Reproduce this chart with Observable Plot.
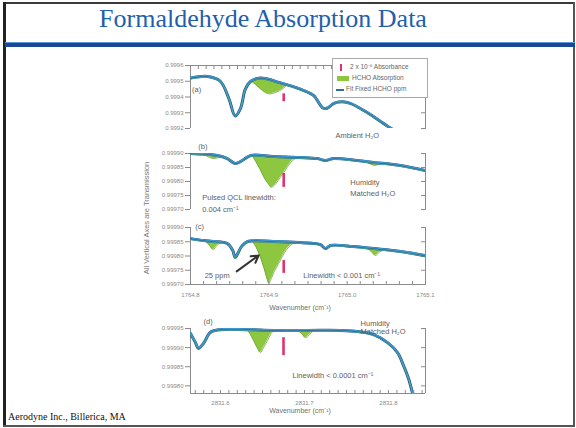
<!DOCTYPE html>
<html><head><meta charset="utf-8">
<script src="https://cdn.jsdelivr.net/npm/d3@7"></script>
<script src="https://cdn.jsdelivr.net/npm/@observablehq/plot@0.6"></script>
<style>
html,body{margin:0;padding:0;background:#fff;}
#slide{position:relative;width:576px;height:428px;overflow:hidden;background:#fff;font-family:"Liberation Sans",Arial,sans-serif;}
#slide svg{position:absolute;left:0;top:0;}
.bd{position:absolute;background:#3a3a3a;}
#title{position:absolute;left:0;top:6px;width:526px;text-align:center;font-family:"Liberation Serif","Times New Roman",serif;font-size:26px;line-height:26px;color:#1f5fad;white-space:nowrap;}
#rule1{position:absolute;left:5px;top:42px;width:570px;height:1px;background:#5b95d6;}
#rule2{position:absolute;left:5px;top:43px;width:570px;height:4px;background:#1b4894;}
#footer{position:absolute;left:8px;top:411px;font-family:"Liberation Serif","Times New Roman",serif;font-size:10px;color:#111;white-space:nowrap;}
#ytitle{position:absolute;left:146px;top:218px;transform:translate(-50%,-50%) rotate(-90deg);white-space:nowrap;font-size:7.5px;color:#7a7a7a;}
#legend{position:absolute;left:332px;top:58px;width:94px;height:38px;border:1px solid #a9a9a9;background:#fff;font-size:6.5px;color:#666;z-index:5;}
#legend .row{position:absolute;left:0;height:10px;line-height:10px;white-space:nowrap;}
</style></head>
<body><div id="slide">
<div class="bd" style="left:3px;top:2px;width:572px;height:2px;"></div>
<div class="bd" style="left:3px;top:2px;width:3px;height:425px;background:#222;"></div>
<div class="bd" style="left:573px;top:2px;width:2px;height:425px;background:#555;"></div>
<div class="bd" style="left:3px;top:425px;width:572px;height:2px;background:#555;"></div>
<div id="title">Formaldehyde Absorption Data</div>
<div id="rule1"></div><div id="rule2"></div>
<div id="ytitle">All Vertical Axes are Transmission</div>
<div id="footer">Aerodyne Inc., Billerica, MA</div>
</div>
<script>
// ---------- shared axes ----------
const wnDomain1 = [1764.8, 1765.1];
const wnTicks1 = [1764.8, 1764.9, 1765.0, 1765.1];
const wnDomain2 = [2831.5643, 2831.844];
const wnTicks2 = [2831.6, 2831.7, 2831.8];
const xTitle = "Wavenumber (cm⁻¹)";
const legendLabels = ["2 x 10⁻⁵ Absorbance", "HCHO Absorption", "Fit Fixed HCHO ppm"];

// ---------- panel (a): ambient H2O ----------
const aTicks = [0.9992, 0.9993, 0.9994, 0.9995, 0.9996];
const aWn = [1764.800, 1764.822, 1764.838, 1764.849, 1764.857, 1764.864, 1764.870, 1764.877, 1764.889, 1764.915, 1764.940, 1764.957, 1764.969, 1764.975, 1764.983, 1764.994, 1765.004, 1765.026, 1765.053, 1765.100];
const aT  = [0.99952, 0.99953, 0.99950, 0.99939, 0.99928, 0.99933, 0.99945, 0.99950, 0.99952, 0.99949, 0.99945, 0.99941, 0.99933, 0.99933, 0.99936, 0.99937, 0.99936, 0.99930, 0.99921, 0.99907];
const aGreenWn   = [1764.877, 1764.883, 1764.892, 1764.900, 1764.909, 1764.917, 1764.924];
const aGreenBase = [0.99950, 0.99951, 0.99952, 0.99951, 0.99950, 0.99949, 0.99948];
const aGreenDip  = [0.99950, 0.99948, 0.99944, 0.99942, 0.99943, 0.99945, 0.99948];
const aMarker = [1764.919, 0.99942, 0.99937];
const aLabels = ["(a)", "Ambient H₂O"];
const aLabelWn = [1764.802, 1764.985];
const aLabelT = [0.99945, 0.999156];
const aLabelAnchor = ["start", "start"];

// ---------- panel (b): pulsed QCL ----------
const bTicks = [0.99970, 0.99975, 0.99980, 0.99985, 0.99990];
const bWn = [1764.800, 1764.834, 1764.847, 1764.857, 1764.866, 1764.877, 1764.906, 1764.937, 1764.962, 1764.972, 1764.983, 1765.013, 1765.034, 1765.068, 1765.100];
const bT  = [0.999900, 0.999893, 0.999882, 0.999864, 0.999875, 0.999893, 0.999889, 0.999886, 0.999882, 0.999875, 0.999882, 0.999875, 0.999868, 0.999857, 0.999839];
const bGreenId   = [1,1,1,1,1, 2,2,2,2,2,2,2,2,2,2,2,2, 3,3,3,3,3];
const bGreenWn   = [1764.817, 1764.823, 1764.829, 1764.834, 1764.840,
  1764.879, 1764.884, 1764.889, 1764.894, 1764.900, 1764.903, 1764.907, 1764.912, 1764.919, 1764.925, 1764.930, 1764.937,
  1765.023, 1765.030, 1765.035, 1765.040, 1765.045];
const bGreenBase = [0.999896, 0.999895, 0.999894, 0.999893, 0.999889,
  0.999893, 0.999892, 0.999891, 0.999891, 0.999890, 0.999889, 0.999889, 0.999888, 0.999888, 0.999887, 0.999887, 0.999886,
  0.999871, 0.999869, 0.999868, 0.999866, 0.999865];
const bGreenDip  = [0.999896, 0.999888, 0.999882, 0.999884, 0.999889,
  0.999892, 0.999868, 0.999843, 0.999814, 0.999789, 0.999779, 0.999786, 0.999804, 0.999832, 0.999857, 0.999875, 0.999886,
  0.999871, 0.999862, 0.999857, 0.999861, 0.999865];
const bMarker = [1764.919, 0.999829, 0.999779];
const bLabels = ["(b)", "Pulsed QCL linewidth:", "0.004 cm⁻¹", "Humidity", "Matched H₂O"];
const bLabelWn = [1764.810, 1764.815, 1764.815, 1765.004, 1765.004];
const bLabelT = [0.999925, 0.999743, 0.999698, 0.999796, 0.999757];
const bLabelAnchor = ["start", "start", "start", "start", "start"];

// ---------- panel (c): cw QCL, 25 ppm ----------
const cTicks = [0.99970, 0.99975, 0.99980, 0.99985, 0.99990];
const cWn = [1764.800, 1764.817, 1764.829, 1764.847, 1764.854, 1764.857, 1764.861, 1764.865, 1764.873, 1764.906, 1764.940, 1764.966, 1764.972, 1764.979, 1765.008, 1765.034, 1765.068, 1765.100];
const cT  = [0.999861, 0.999854, 0.999851, 0.999844, 0.999819, 0.999795, 0.999812, 0.999833, 0.999851, 0.999851, 0.999847, 0.999840, 0.999826, 0.999837, 0.999833, 0.999826, 0.999816, 0.999801];
const cGreenId   = [1,1,1,1,1, 2,2,2,2,2,2,2,2,2,2,2,2,2, 3,3,3,3,3];
const cGreenWn   = [1764.819, 1764.824, 1764.829, 1764.834, 1764.841,
  1764.879, 1764.884, 1764.889, 1764.894, 1764.898, 1764.900, 1764.902, 1764.907, 1764.914, 1764.920, 1764.926, 1764.931, 1764.937,
  1765.025, 1765.031, 1765.036, 1765.041, 1765.048];
const cGreenBase = [0.999853, 0.999852, 0.999851, 0.999850, 0.999849,
  0.999851, 0.999851, 0.999850, 0.999850, 0.999850, 0.999849, 0.999849, 0.999849, 0.999848, 0.999848, 0.999848, 0.999847, 0.999847,
  0.999829, 0.999827, 0.999826, 0.999825, 0.999823];
const cGreenDip  = [0.999853, 0.999838, 0.999823, 0.999838, 0.999849,
  0.999851, 0.999830, 0.999798, 0.999756, 0.999718, 0.999704, 0.999714, 0.999746, 0.999781, 0.999812, 0.999833, 0.999844, 0.999847,
  0.999829, 0.999815, 0.999802, 0.999813, 0.999823];
const cMarker = [1764.919, 0.999784, 0.999739];
const cArrow = [1764.859, 0.999746, 1764.887, 0.999802];
const cLabels = ["(c)", "25 ppm", "Linewidth < 0.001 cm⁻¹"];
const cLabelWn = [1764.806, 1764.850, 1764.944];
const cLabelT = [0.999902, 0.999732, 0.999732];
const cLabelAnchor = ["start", "end", "start"];

// ---------- panel (d): 2831 cm-1 region ----------
const dTicks = [0.99980, 0.99985, 0.99990, 0.99995];
const dWn = [2831.5643, 2831.5702, 2831.5738, 2831.5798, 2831.5881, 2831.6000, 2831.6321, 2831.6631, 2831.7036, 2831.7429, 2831.7631, 2831.7821, 2831.7988, 2831.8107, 2831.8179, 2831.8238, 2831.8286, 2831.8333];
const dT  = [0.999937, 0.999913, 0.999898, 0.999911, 0.999940, 0.999947, 0.999947, 0.999945, 0.999945, 0.999945, 0.999942, 0.999934, 0.999913, 0.999887, 0.999853, 0.999819, 0.999780, 0.999736];
const dGreenId   = [1,1,1,1,1,1,1,1,1, 2,2,2,2,2];
const dGreenWn   = [2831.6321, 2831.6357, 2831.6393, 2831.6429, 2831.6476, 2831.6512, 2831.6560, 2831.6595, 2831.6631,
  2831.6917, 2831.6964, 2831.7012, 2831.7060, 2831.7107];
const dGreenBase = [0.999947, 0.999947, 0.999947, 0.999946, 0.999946, 0.999946, 0.999946, 0.999945, 0.999945,
  0.999945, 0.999945, 0.999945, 0.999945, 0.999945];
const dGreenDip  = [0.999947, 0.999934, 0.999919, 0.999903, 0.999887, 0.999900, 0.999919, 0.999934, 0.999945,
  0.999945, 0.999937, 0.999926, 0.999934, 0.999945];
const dMarker = [2831.675, 0.999926, 0.999879];
const dLabels = ["(d)", "Humidity", "Matched H₂O", "Linewidth < 0.0001 cm⁻¹"];
const dLabelWn = [2831.5798, 2831.7667, 2831.7667, 2831.6857];
const dLabelT = [0.999968, 0.999964, 0.999941, 0.999827];
const dLabelAnchor = ["start", "start", "start", "start"];

// ---------- drawing ----------
const AXIS = "#8c8c8c";
const slide = document.getElementById("slide");

function panel(cfg) {
  const line = cfg.wn.map((x, i) => ({x, y: cfg.t[i]}));
  const green = cfg.gWn.map((x, i) => ({x, base: cfg.gBase[i], dip: cfg.gDip[i], id: cfg.gId ? cfg.gId[i] : 1}));
  const labels = cfg.labels.map((text, i) => ({text, x: cfg.labelWn[i], y: cfg.labelT[i], anchor: cfg.labelAnchor[i]}));
  const [xmin, xmax] = cfg.xDomain;
  const marks = [
    Plot.ruleX([xmin, xmax], {stroke: AXIS, strokeWidth: 1}),
    Plot.axisY({anchor: "left", ticks: cfg.yTicks, tickFormat: cfg.yFmt, tickSize: 5, tickPadding: 2, fontSize: 6, color: "#8a8a8a", label: null}),
    Plot.axisY({anchor: "right", ticks: cfg.yTicks, tickFormat: () => "", tickSize: 5, dx: -5, color: AXIS, label: null}),
    Plot.areaY(green, {x: "x", y1: "base", y2: "dip", z: "id", fill: "#8dc63f", curve: "catmull-rom"}),
    Plot.line(green, {x: "x", y: "dip", z: "id", stroke: "#64a430", strokeWidth: 0.8, curve: "catmull-rom"}),
    Plot.line(line, {x: "x", y: "y", stroke: "#2a5683", strokeWidth: 3, curve: "catmull-rom", clip: true}),
    Plot.line(line, {x: "x", y: "y", stroke: "#3d98d2", strokeWidth: 1.3, dy: -0.7, curve: "catmull-rom", clip: true}),
    Plot.line(line, {x: "x", y: "y", stroke: "#4fb3a0", strokeWidth: 0.8, dy: 0.9, curve: "catmull-rom", clip: true}),
    Plot.ruleX([cfg.marker], {x: d => d[0], y1: d => d[1], y2: d => d[2], stroke: "#e0336d", strokeWidth: 2.6}),
    Plot.text(labels.filter(d => d.anchor === "start"), {x: "x", y: "y", text: "text", textAnchor: "start", fontSize: 7.5, fill: "#606060"}),
    Plot.text(labels.filter(d => d.anchor === "end"), {x: "x", y: "y", text: "text", textAnchor: "end", fontSize: 7.5, fill: "#606060"})
  ];
  if (cfg.topAxis) {
    marks.push(Plot.ruleY([cfg.yDomain[1]], {stroke: AXIS, strokeWidth: 1}));
    marks.push(Plot.axisX({anchor: "top", ticks: d3.range(xmin + 0.01, xmax, 0.01), tickSize: 3, dy: 3, tickFormat: () => "", color: AXIS, label: null}));
  }
  if (cfg.bottomAxis) {
    marks.push(Plot.ruleY([cfg.yDomain[0]], {stroke: AXIS, strokeWidth: 1}));
    marks.push(Plot.axisX({anchor: "bottom", ticks: cfg.minorTicks, tickSize: 3, dy: -3, tickFormat: () => "", color: AXIS, label: null}));
    marks.push(Plot.axisX({anchor: "bottom", ticks: cfg.xTicks, tickSize: 0, tickPadding: cfg.tickPad, tickFormat: d3.format(".1f"), fontSize: 6, color: "#8a8a8a", label: null}));
    marks.push(Plot.text([xTitle], {frameAnchor: "bottom", dy: cfg.titleDy, dx: -8, fontSize: 7, fill: "#707070"}));
  }
  if (cfg.arrow) {
    const a = cfg.arrow;
    marks.push(Plot.arrow([a], {x1: d => d[0], y1: d => d[1], x2: d => d[2], y2: d => d[3], stroke: "#333", strokeWidth: 2, headLength: 6}));
  }
  const svg = Plot.plot({
    width: 576, height: cfg.height,
    marginLeft: 190, marginRight: 151, marginTop: cfg.top, marginBottom: cfg.height - cfg.bottom,
    x: {domain: cfg.xDomain, axis: null},
    y: {domain: cfg.yDomain, axis: null},
    style: {background: "transparent", overflow: "visible", fontFamily: "Liberation Sans, Arial, sans-serif"},
    marks
  });
  slide.appendChild(svg);
}

panel({xDomain: wnDomain1, yDomain: [0.9992, 0.9996], top: 65, bottom: 128, height: 140,
  yTicks: aTicks, yFmt: d3.format(".4f"), wn: aWn, t: aT,
  gWn: aGreenWn, gBase: aGreenBase, gDip: aGreenDip, marker: aMarker,
  labels: aLabels, labelWn: aLabelWn, labelT: aLabelT, labelAnchor: aLabelAnchor, topAxis: true});
panel({xDomain: wnDomain1, yDomain: [0.9997, 0.9999], top: 153, bottom: 209, height: 215,
  yTicks: bTicks, yFmt: d3.format(".5f"), wn: bWn, t: bT,
  gWn: bGreenWn, gBase: bGreenBase, gDip: bGreenDip, gId: bGreenId, marker: bMarker,
  labels: bLabels, labelWn: bLabelWn, labelT: bLabelT, labelAnchor: bLabelAnchor});
panel({xDomain: wnDomain1, yDomain: [0.9997, 0.9999], top: 227, bottom: 284, height: 320,
  yTicks: cTicks, yFmt: d3.format(".5f"), wn: cWn, t: cT,
  gWn: cGreenWn, gBase: cGreenBase, gDip: cGreenDip, gId: cGreenId, marker: cMarker,
  labels: cLabels, labelWn: cLabelWn, labelT: cLabelT, labelAnchor: cLabelAnchor, arrow: cArrow,
  bottomAxis: true, xTicks: wnTicks1, minorTicks: d3.range(0, 19).map(i => 1764.8 + i / 60), tickPad: 8, titleDy: 25});
panel({xDomain: wnDomain2, yDomain: [0.99978, 0.99995], top: 328, bottom: 393, height: 428,
  yTicks: dTicks, yFmt: d3.format(".5f"), wn: dWn, t: dT,
  gWn: dGreenWn, gBase: dGreenBase, gDip: dGreenDip, gId: dGreenId, marker: dMarker,
  labels: dLabels, labelWn: dLabelWn, labelT: dLabelT, labelAnchor: dLabelAnchor,
  bottomAxis: true, xTicks: wnTicks2, minorTicks: d3.range(0, 28).map(i => 2831.57 + i * 0.01), tickPad: 7, titleDy: 19});

// legend (HTML, drawn from the legend label array)
const legend = document.createElement("div");
legend.id = "legend";
const swatches = [
  '<span style="position:absolute;left:7px;top:2px;width:2px;height:7px;background:#e0336d"></span>',
  '<span style="position:absolute;left:4px;top:3px;width:12px;height:5px;background:#8dc63f"></span>',
  '<span style="position:absolute;left:3px;top:5px;width:8px;height:2px;background:#2c6fa8"></span>'
];
const textLeft = [17, 19, 13];
legendLabels.forEach((lab, i) => {
  const row = document.createElement("div");
  row.className = "row";
  row.style.top = (3 + i * 11) + "px";
  row.style.width = "94px";
  row.innerHTML = swatches[i] + '<span style="position:absolute;left:' + textLeft[i] + 'px;top:0">' + lab + '</span>';
  legend.appendChild(row);
});
slide.appendChild(legend);
</script>
</body></html>
